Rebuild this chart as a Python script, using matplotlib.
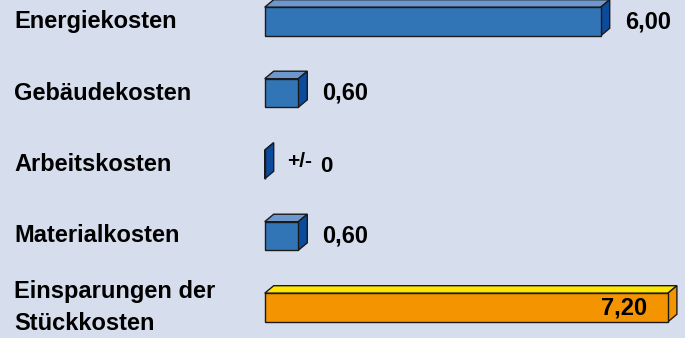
import matplotlib.pyplot as plt
from matplotlib.patches import Polygon

# data
categories = ['Energiekosten', 'Gebäudekosten', 'Arbeitskosten', 'Materialkosten',
              'Einsparungen der\nStückkosten']
values = [6.00, 0.60, 0.0, 0.60, 7.20]
value_labels = ['6,00', '0,60', '0', '0,60', '7,20']

bg = '#D6DDEC'
front_blue, top_blue, side_blue = '#3175B7', '#6E98CD', '#0C4A9C'
front_or, top_or, side_or = '#F39400', '#FFE500', '#F39400'
edge = '#1a1a1a'

W, H = 685, 338
fig = plt.figure(figsize=(W / 100, H / 100), dpi=100)
fig.patch.set_facecolor(bg)
ax = fig.add_axes([0, 0, 1, 1])
ax.set_facecolor(bg)

# axis scaling: pixels per unit, row spacing
px_unit = 56.0
x0_px = 264.7
row_px = 71.5
row0_px = 21.5
x0 = -x0_px / px_unit
ax.set_xlim(x0, x0 + W / px_unit)
ax.set_ylim((H - row0_px) / row_px, -row0_px / row_px)
ax.axis('off')

bar_h = 0.40
dx = 9 / px_unit
dy = 7.5 / row_px

ypos = list(range(len(categories)))
font = 'Liberation Sans'
fs = 17

for i, (cat, v, lab) in enumerate(zip(categories, values, value_labels)):
    total = i == len(categories) - 1
    fc, tc, sc = (front_or, top_or, side_or) if total else (front_blue, top_blue, side_blue)
    y = ypos[i]
    yt, yb = y - bar_h / 2, y + bar_h / 2
    # top face
    ax.add_patch(Polygon([(0, yt), (dx, yt - dy), (v + dx, yt - dy), (v, yt)],
                         closed=True, facecolor=tc, edgecolor=edge, lw=1, zorder=2))
    # side face
    ax.add_patch(Polygon([(v, yt), (v + dx, yt - dy), (v + dx, yb - dy), (v, yb)],
                         closed=True, facecolor=sc, edgecolor=edge, lw=1, zorder=2))
    # front face
    ax.barh(y, v, height=bar_h, left=0, color=fc, edgecolor=edge, lw=1, zorder=3)

    ax.text(14 / W, y, cat, transform=ax.get_yaxis_transform(), ha='left', va='center',
            fontsize=fs, fontweight='bold', family=font, linespacing=1.45)

    if total:
        ax.annotate(lab, (v, y), xytext=(-21, 0), textcoords='offset pixels',
                    ha='right', va='center', fontsize=fs, fontweight='bold', family=font)
    elif v == 0:
        ax.annotate('+/-', (v, y), xytext=(22, 3), textcoords='offset pixels',
                    ha='left', va='center', fontsize=15, fontweight='bold', family=font)
        ax.annotate(lab, (v, y), xytext=(55, -2), textcoords='offset pixels',
                    ha='left', va='center', fontsize=16, fontweight='bold', family=font)
    else:
        ax.annotate(lab, (v, y), xytext=(24, 0), textcoords='offset pixels',
                    ha='left', va='center', fontsize=fs, fontweight='bold', family=font)

fig.savefig('out.png', dpi=100, facecolor=bg)
